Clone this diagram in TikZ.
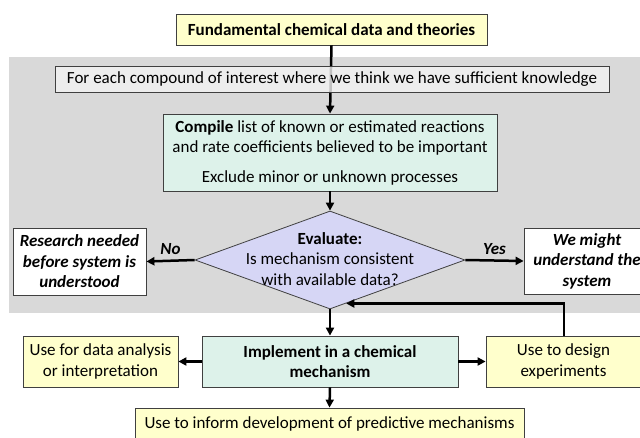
\documentclass[tikz,border=0pt]{standalone}
\usepackage{fontspec}
\setmainfont{Carlito}
\usetikzlibrary{shapes.geometric,arrows.meta,calc}
\definecolor{bgray}{HTML}{D9D9D9}
\definecolor{lgray}{HTML}{F2F2F2}
\definecolor{yel}{HTML}{FFFFCC}
\definecolor{mint}{HTML}{DDF2EA}
\definecolor{lav}{HTML}{D6D6F5}
\definecolor{edge}{HTML}{404040}
\newcommand{\fs}{\fontsize{17}{20.5}\selectfont}
\begin{document}
\begin{tikzpicture}[x=1pt,y=-1pt,
  box/.style={draw=edge, line width=0.8pt, inner sep=0pt, align=center, font=\fs},
  ybox/.style={box, fill=yel},
  mbox/.style={box, fill=mint},
  wbox/.style={box, fill=white, font=\fs\bfseries\itshape},
  arr/.style={line width=2.5pt, -{Triangle[length=8pt,width=8pt]}},
  lab/.style={font=\fs\bfseries\itshape, inner sep=0pt}]
\useasboundingbox (0,0) rectangle (640,437);
\fill[white] (0,0) rectangle (640,437);
% grey band
\fill[bgray] (9,57) rectangle (645,313);
% nodes
\node[ybox, minimum width=311, minimum height=31, font=\fs\bfseries] (top) at (331.5,29.5) {Fundamental chemical data and theories};
\node[mbox, minimum width=334, minimum height=77] (comp) at (330,152.5)
  {\textbf{Compile} list of known or estimated reactions\\and rate coefficients believed to be important\\[9pt]Exclude minor or unknown processes};
\draw[arr] (top.south) -- (comp.north);
\node[box, fill=lgray, fill opacity=0.8, text opacity=1, minimum width=554, minimum height=26] (each) at (332,79)
  {For each compound of interest where we think we have sufficient knowledge};
\node[diamond, draw=edge, line width=0.8pt, fill=lav, inner sep=0pt, minimum width=270, minimum height=98] (eval) at (330,260) {};
\node[align=center, inner sep=0pt, font=\fs] (evtxt) at (330,259)
  {\textbf{Evaluate:}\\Is mechanism consistent\\with available data?};
\node[wbox, minimum width=133, minimum height=67] (res) at (79.5,261.5)
  {Research needed\\before system is\\understood};
\node[wbox, minimum width=126, minimum height=66] (might) at (587,261)
  {We might\\understand the\\system};
\node[ybox, minimum width=155, minimum height=51] (data) at (100.5,361.5)
  {Use for data analysis\\or interpretation};
\node[mbox, minimum width=256, minimum height=51, font=\fs\bfseries] (impl) at (330,361.5)
  {Implement in a chemical\\mechanism};
\node[ybox, minimum width=155, minimum height=51] (design) at (563.5,361.5)
  {Use to design\\experiments};
\node[ybox, minimum width=389, minimum height=32] (pred) at (329.5,424)
  {Use to inform development of predictive mechanisms};
% connectors
\draw[arr] (comp.south) -- (eval.north);
\draw[arr] (eval.west) -- (res.east) node[lab, midway, above=5pt] (no) {No};
\draw[arr] (eval.east) -- (might.west) node[lab, midway, above=5pt] (yes) {Yes};
\draw[arr] (eval.south) -- (impl.north);
\draw[arr] (impl.west) -- (data.east);
\draw[arr] (impl.east) -- (design.west);
\draw[arr] (impl.south) -- (pred.north);
\coordinate (fb) at ($(eval.south)!0.12!(eval.east)$);
\draw[arr] (design.north -| 564,0) |- (fb);
\end{tikzpicture}
\end{document}
